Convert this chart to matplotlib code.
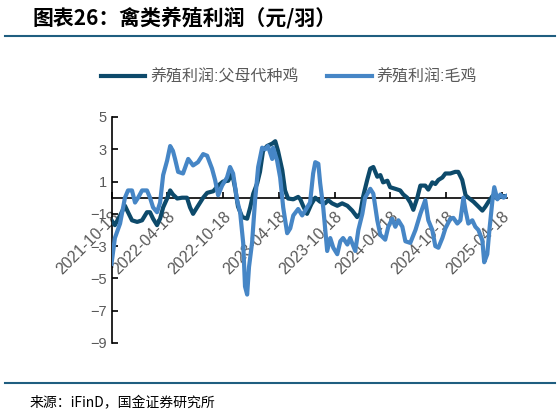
import pandas as pd
import matplotlib
matplotlib.use('Agg')
import matplotlib.pyplot as plt
import matplotlib.dates as mdates
from matplotlib.lines import Line2D

plt.rcParams['font.family'] = ['Liberation Sans', 'Noto Sans CJK SC', 'DejaVu Sans']

inicio = pd.Timestamp('2021-10-18')

# 养殖利润:父母代种鸡 (dias desde 2021-10-18)
dias_fm = [0, 11, 28, 44, 54, 67, 84, 100, 116, 126, 136, 149, 159, 169, 182, 192,
           201, 215, 231, 247, 257, 267, 280, 290, 300, 313, 333, 349, 365, 382,
           395, 405, 414, 428, 444, 454, 464, 477, 486, 496, 509, 526, 536, 545,
           559, 568, 578, 595, 611, 618, 627, 640, 654, 667, 683, 699, 709, 722,
           739, 755, 772, 788, 804, 814, 824, 837, 847, 857, 870, 880, 889, 903,
           912, 929, 945, 955, 968, 978, 988, 1001, 1011, 1027, 1037, 1050, 1060,
           1070, 1083, 1093, 1109, 1125, 1135, 1148, 1159, 1168, 1185, 1201, 1214,
           1224, 1234, 1247, 1257, 1266, 1279, 1289]
lucro_fm = [-1.4, -1.7, -1.1, -0.5, -0.9, -1.4, -1.5, -1.4, -0.9, -0.9, -1.3, -1.7,
            -1.3, -0.6, -0.05, 0.45, 0.2, -0.05, 0.0, 0.0, -0.6, -1.0, -0.6, -0.3,
            0.0, 0.3, 0.4, 0.75, 1.0, 1.05, 1.5, 0.55, -0.55, -1.2, -1.3, -0.6,
            0.25, 0.9, 1.6, 2.9, 3.2, 3.35, 3.5, 2.9, 1.7, 0.45, -0.05, -0.1, 0.05,
            -0.1, -0.5, -1.0, -0.4, 0.0, -0.25, -0.35, -0.15, -0.35, -0.5, -0.35,
            -0.5, -0.8, -1.2, -1.0, 0.1, 1.1, 1.8, 1.9, 1.3, 1.4, 0.95, 1.05, 0.65,
            0.55, 0.45, 0.2, 0.0, -0.3, -0.75, 0.0, 0.75, 0.75, 0.5, 0.95, 0.85,
            1.1, 1.25, 1.5, 1.5, 1.6, 1.6, 1.1, 0.15, 0.0, -0.25, -0.55, -0.8,
            -0.55, -0.25, 0.1, 0.0, 0.0, 0.1, 0.1]

# 养殖利润:毛鸡
dias_mj = [0, 11, 28, 44, 54, 67, 77, 87, 100, 116, 126, 136, 149, 159, 169, 182,
           192, 201, 208, 218, 234, 251, 267, 283, 300, 313, 329, 339, 349, 362,
           378, 388, 398, 411, 421, 431, 437, 444, 450, 460, 470, 480, 493, 503,
           512, 526, 529, 542, 552, 562, 575, 585, 595, 611, 624, 634, 650, 660,
           667, 677, 683, 693, 706, 716, 726, 739, 749, 758, 772, 781, 798, 808,
           821, 830, 847, 857, 870, 880, 896, 906, 919, 929, 939, 952, 962, 978,
           995, 1011, 1027, 1037, 1050, 1060, 1070, 1083, 1093, 1109, 1119, 1132,
           1142, 1152, 1159, 1168, 1181, 1191, 1201, 1214, 1220, 1230, 1237, 1247,
           1253, 1263, 1273, 1283, 1292]
lucro_mj = [-4.1, -2.5, -1.6, 0.0, 0.45, 0.45, -0.3, 0.0, 0.45, 0.45, 0.0, -0.6,
            -0.9, -0.3, 1.4, 2.3, 3.2, 2.9, 2.4, 1.6, 1.5, 2.4, 2.0, 2.2, 2.7, 2.6,
            1.8, 1.1, 0.15, 0.75, 1.25, 1.9, 1.5, -0.15, -0.9, -2.8, -5.5, -6.0,
            -4.3, -2.8, -0.15, 1.9, 3.1, 3.0, 3.2, 2.4, 3.1, 2.3, 1.25, -0.6, -2.2,
            -1.9, -1.1, -0.7, -1.1, -0.8, -0.3, 1.5, 2.2, 2.1, 0.9, -0.6, -3.3,
            -2.5, -3.1, -3.5, -2.7, -2.5, -2.9, -2.5, -3.3, -2.0, -1.0, 0.0, 0.55,
            0.25, -1.4, -2.3, -2.6, -1.8, -1.3, -1.8, -1.4, -1.8, -2.7, -2.8, -2.0,
            -1.0, -0.15, -1.4, -2.0, -3.0, -3.1, -2.5, -1.9, -1.3, -1.25, -1.6,
            -1.4, 0.0, -0.8, -1.6, -1.4, -1.8, -2.0, -2.65, -4.0, -3.5, -2.0,
            -0.15, 0.65, -0.1, 0.2, 0.0, 0.1]

ticks_x = pd.date_range('2021-10-18', periods=8, freq=pd.DateOffset(months=6))
ticks_y = [5, 3, 1, -1, -3, -5, -7, -9]

datas_fm = inicio + pd.to_timedelta(dias_fm, unit='D')
datas_mj = inicio + pd.to_timedelta(dias_mj, unit='D')

cinza = '#595959'

fig = plt.figure(figsize=(5.59, 4.16), dpi=100)
ax = fig.add_axes([0.1995, 0.1755, 0.7066, 0.5433])

# linhas por cima dos rótulos do eixo, como no original
ax.plot(datas_fm, lucro_fm, color='#0D4A6B', lw=3, label='养殖利润:父母代种鸡', zorder=3)
ax.plot(datas_mj, lucro_mj, color='#4686C6', lw=3, label='养殖利润:毛鸡', zorder=3)

ax.set_ylim(-9, 5)
ax.set_yticks(ticks_y)
ax.set_xlim(inicio, inicio + pd.Timedelta(days=1293))
ax.set_xticks(ticks_x)
ax.xaxis.set_major_formatter(mdates.DateFormatter('%Y-%m-%d'))

for lado in ['top', 'right']:
    ax.spines[lado].set_visible(False)
ax.spines['bottom'].set_position(('data', 0))
ax.spines['bottom'].set_linewidth(1.2)
ax.spines['left'].set_linewidth(1.2)

ax.tick_params(axis='both', direction='in', length=4, width=1.2,
               labelcolor=cinza, labelsize=10.5)
ax.tick_params(axis='x', pad=8, labelsize=11.5)
for rotulo in ax.get_xticklabels():
    rotulo.set_rotation(45)
    rotulo.set_ha('right')
    rotulo.set_va('top')
    rotulo.set_rotation_mode('anchor')

fig.legend(loc='center', bbox_to_anchor=(0.517, 0.815), ncol=2, frameon=False,
           fontsize=11.5, labelcolor=cinza, handlelength=2.8, handletextpad=0.3,
           columnspacing=1.8)

fig.text(0.059, 0.958, '图表26：禽类养殖利润（元/羽）', fontsize=15,
         fontweight='bold', va='center', family=['Noto Sans CJK SC'])
fig.add_artist(Line2D([0.009, 0.992], [1 - 36 / 416] * 2, color='#1F5E80', lw=1.5))
fig.add_artist(Line2D([0.009, 0.992], [1 - 383 / 416] * 2, color='#1F5E80', lw=1.5))
fig.text(30 / 559, 1 - 403 / 416, '来源：iFinD，国金证券研究所', fontsize=10,
         va='center', family=['Noto Sans CJK SC'])

fig.savefig('out.png', dpi=100)
